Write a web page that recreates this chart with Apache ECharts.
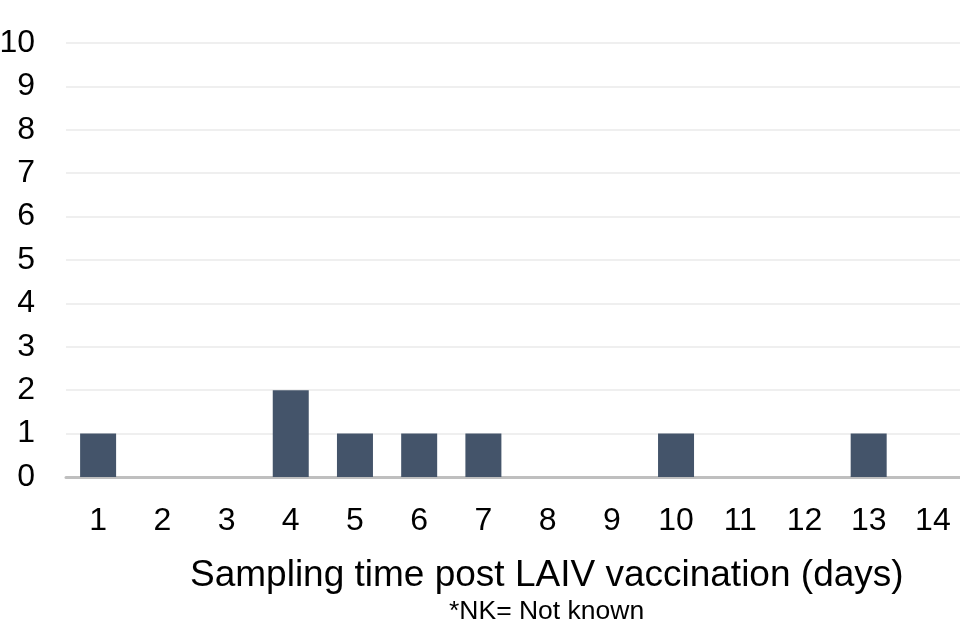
<!DOCTYPE html>
<html>
<head>
<meta charset="utf-8">
<script src="https://cdn.jsdelivr.net/npm/echarts@6/dist/echarts.min.js"></script>
<style>html,body{margin:0;padding:0;background:#fff;}#c{width:960px;height:640px;}</style>
</head>
<body>
<div id="c"></div>
<script>
const categories = ['1','2','3','4','5','6','7','8','9','10','11','12','13','14'];
const counts = [1,0,0,2,1,1,1,0,0,1,0,0,1,0];
const yTicks = [0,1,2,3,4,5,6,7,8,9,10];
const xAxisTitle = 'Sampling time post LAIV vaccination (days)';
const footnote = '*NK= Not known';

const FONT = 'Liberation Sans, Arial, sans-serif';
const chart = echarts.init(document.getElementById('c'));
chart.setOption({
  animation: false,
  backgroundColor: '#ffffff',
  grid: { left: 66, top: 43, width: 899, height: 434, containLabel: false, outerBoundsMode: 'none' },
  xAxis: {
    type: 'category',
    data: categories,
    axisLine: { show: true, lineStyle: { color: '#BFBFBF', width: 3 } },
    axisTick: { show: false },
    axisLabel: { color: '#000', fontSize: 32, fontFamily: FONT, margin: 28 }
  },
  yAxis: {
    type: 'value',
    min: 0, max: 10, interval: 1,
    axisLine: { show: false },
    axisTick: { show: false },
    splitLine: { lineStyle: { color: '#EFEFEF', width: 2 } },
    axisLabel: { color: '#000', fontSize: 32, fontFamily: FONT, margin: 31,
      formatter: v => yTicks.includes(v) ? String(v) : '' }
  },
  series: [{
    type: 'bar',
    data: counts,
    barWidth: 36,
    itemStyle: { color: '#44546A' }
  }],
  graphic: [
    { type: 'text', left: 190, top: 557, style: { text: xAxisTitle, fill: '#000', fontSize: 37, fontFamily: FONT } },
    { type: 'text', left: 449, top: 598, style: { text: footnote, fill: '#000', fontSize: 26.5, fontFamily: FONT } }
  ]
});
</script>
</body>
</html>
